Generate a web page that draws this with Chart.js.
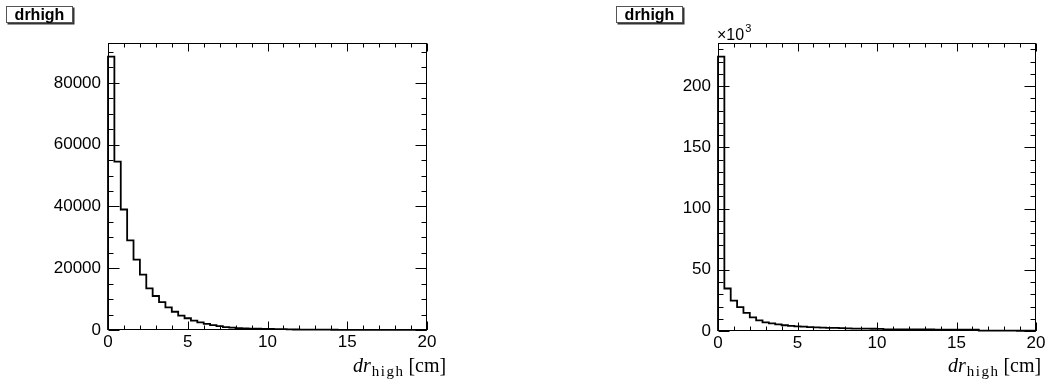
<!DOCTYPE html>
<html>
<head>
<meta charset="utf-8">
<script src="https://cdn.jsdelivr.net/npm/chart.js@4.4.1/dist/chart.umd.min.js"></script>
<style>
  html, body { margin: 0; padding: 0; background: #fff; }
  #wrap { position: relative; width: 1050px; height: 386px; }
  .pad { position: absolute; top: 0; width: 525px; height: 386px; }
</style>
</head>
<body>
<div id="wrap">
  <div class="pad" style="left:0"><canvas id="padLeft"></canvas></div>
  <div class="pad" style="left:525px"><canvas id="padRight"></canvas></div>
</div>
<script>
// Histogram binning shared by both pads: 50 bins over [0, 20] cm
const nBins = 50;
const xMin = 0;
const xMax = 20;

// Bin contents, left pad
const leftCounts = [
  88500, 54500, 39000, 29000, 22800, 17900, 13500, 11000, 9000, 7300,
  5900, 4650, 3800, 3050, 2500, 2000, 1600, 1250, 950, 760,
  620, 530, 460, 410, 370, 330, 290, 260, 230, 160,
  140, 125, 110, 100, 90, 80, 70, 62, 55, 50,
  44, 40, 36, 32, 29, 26, 24, 21, 19, 17
];

// Bin contents, right pad
const rightCounts = [
  224000, 34700, 24800, 19500, 14800, 11200, 8600, 7100, 6200, 5400,
  4700, 4200, 3800, 3500, 3200, 2950, 2750, 2600, 2500, 2300,
  2100, 2000, 1950, 1900, 1850, 1800, 1400, 1350, 1320, 1300,
  1280, 1260, 1240, 1220, 1200, 1180, 1160, 1140, 1120, 1100,
  1080, 300, 280, 260, 250, 240, 230, 220, 210, 200
];

const xTicks = [0, 5, 10, 15, 20];
const leftYTicks = [0, 20000, 40000, 60000, 80000];
const rightYTicks = [0, 50000, 100000, 150000, 200000];

const histTitle = 'drhigh';

const SANS = '"Liberation Sans", Arial, Helvetica, sans-serif';
const SERIF = '"Liberation Serif", "Times New Roman", serif';

// Outline of a histogram for stepped:'before' (horizontal first, then vertical):
// start on the axis, one point per bin at its low edge, close on the axis at xMax
function stepPoints(counts) {
  const w = (xMax - xMin) / nBins;
  const pts = [{ x: xMin, y: 0 }];
  counts.forEach((c, i) => pts.push({ x: xMin + i * w, y: c }));
  pts.push({ x: xMax, y: 0 });
  return pts;
}

// Frame, inward tick marks, title box and axis title
const rootFrame = {
  id: 'rootFrame',
  afterDatasetsDraw(chart, args, opts) {
    const { ctx, chartArea: a, scales: { x, y } } = chart;
    ctx.save();
    ctx.strokeStyle = '#000';
    ctx.lineWidth = 1;

    const L = Math.round(a.left) + 0.5, R = Math.round(a.right) - 0.5;
    const T = Math.round(a.top) + 0.5, B = Math.round(a.bottom) - 0.5;
    ctx.strokeRect(L, T, R - L, B - T);

    ctx.beginPath();
    // x ticks, bottom and top
    const nx = Math.round((xMax - xMin) / opts.xMinor);
    const xPer = Math.round(opts.xMajor / opts.xMinor);
    for (let i = 0; i <= nx; i++) {
      const px = Math.round(x.getPixelForValue(xMin + i * opts.xMinor)) + 0.5;
      const len = i % xPer === 0 ? 8 : 4;
      ctx.moveTo(px, B); ctx.lineTo(px, B - len);
      ctx.moveTo(px, T); ctx.lineTo(px, T + len);
    }
    // y ticks, left and right
    const yPer = Math.round(opts.yMajor / opts.yMinor);
    for (let i = 0; i * opts.yMinor <= y.max; i++) {
      const py = Math.round(y.getPixelForValue(i * opts.yMinor)) + 0.5;
      const len = i % yPer === 0 ? 11 : 5;
      ctx.moveTo(L, py); ctx.lineTo(L + len, py);
      ctx.moveTo(R, py); ctx.lineTo(R - len, py);
    }
    ctx.stroke();

    // title box with shadow
    const tb = opts.titleBox;
    ctx.fillStyle = '#333';
    ctx.fillRect(tb.x + 1.5, tb.y + 1.5, tb.w, tb.h);
    ctx.fillStyle = '#fff';
    ctx.fillRect(tb.x, tb.y, tb.w, tb.h);
    ctx.strokeStyle = '#555';
    ctx.strokeRect(tb.x + 0.5, tb.y + 0.5, tb.w - 1, tb.h - 1);
    ctx.fillStyle = '#000';
    ctx.font = 'bold 16px ' + SANS;
    ctx.textAlign = 'center';
    ctx.textBaseline = 'middle';
    ctx.fillText(histTitle, tb.x + tb.w / 2, tb.y + tb.h / 2 + 1);

    // exponent label above the y axis
    if (opts.exponent) {
      ctx.textAlign = 'left';
      ctx.textBaseline = 'alphabetic';
      ctx.font = '16px ' + SANS;
      const ex = Math.round(a.left) - 1;
      ctx.fillText('\u00d710', ex, 40);
      const w = ctx.measureText('\u00d710').width;
      ctx.font = '11px ' + SANS;
      ctx.fillText(opts.exponent, ex + w + 1, 32);
    }

    // x axis title: dr_high [cm]
    let tx = opts.xTitleX;
    const base = 372;
    ctx.textAlign = 'left';
    ctx.textBaseline = 'alphabetic';
    ctx.font = 'italic 20px ' + SERIF;
    ctx.fillText('dr', tx, base);
    tx += ctx.measureText('dr').width + 1;
    ctx.font = '15px ' + SERIF;
    ctx.letterSpacing = '1.5px';
    ctx.fillText('high', tx, base + 4);
    tx += ctx.measureText('high').width + 4;
    ctx.letterSpacing = '0px';
    ctx.font = '20px ' + SERIF;
    ctx.fillText('[cm]', tx, base);

    ctx.restore();
  }
};

function makeHist(canvasId, counts, cfg) {
  const ctx = document.getElementById(canvasId).getContext('2d');
  return new Chart(ctx, {
    type: 'line',
    data: {
      datasets: [{
        data: stepPoints(counts),
        stepped: 'before',
        borderColor: '#000',
        borderWidth: 1.8,
        pointRadius: 0,
        fill: false,
        clip: false
      }]
    },
    options: {
      responsive: true,
      maintainAspectRatio: false,
      animation: false,
      events: [],
      layout: { padding: cfg.padding },
      plugins: {
        legend: { display: false },
        tooltip: { enabled: false },
        rootFrame: cfg.frame
      },
      scales: {
        x: {
          type: 'linear',
          min: xMin,
          max: xMax,
          afterFit: s => { s.height = cfg.xHeight; },
          afterBuildTicks: s => { s.ticks = xTicks.map(v => ({ value: v })); },
          ticks: {
            color: '#000',
            padding: 2,
            maxRotation: 0,
            font: { family: SANS, size: 17 }
          },
          grid: { display: false, drawTicks: false },
          border: { display: false }
        },
        y: {
          type: 'linear',
          min: 0,
          max: cfg.yMax,
          afterFit: s => { s.width = cfg.yWidth; },
          afterBuildTicks: s => { s.ticks = cfg.yTicks.map(v => ({ value: v })); },
          ticks: {
            color: '#000',
            padding: 7,
            font: { family: SANS, size: 17 },
            callback: cfg.yLabel
          },
          grid: { display: false, drawTicks: false },
          border: { display: false }
        }
      }
    },
    plugins: [rootFrame]
  });
}

makeHist('padLeft', leftCounts, {
  padding: { top: 43, right: 98, left: 0, bottom: 0 },
  xHeight: 56,
  yWidth: 108,
  yMax: 92900,
  yTicks: leftYTicks,
  yLabel: v => String(v),
  frame: {
    xMinor: 1, xMajor: 5, yMinor: 5000, yMajor: 20000,
    titleBox: { x: 6, y: 6, w: 67, h: 17 },
    xTitleX: 353
  }
});

makeHist('padRight', rightCounts, {
  padding: { top: 43, right: 14, left: 0, bottom: 0 },
  xHeight: 55,
  yWidth: 193,
  yMax: 235200,
  yTicks: rightYTicks,
  yLabel: v => String(v / 1000),
  frame: {
    xMinor: 1, xMajor: 5, yMinor: 10000, yMajor: 50000,
    titleBox: { x: 91, y: 6, w: 67, h: 17 },
    exponent: '3',
    xTitleX: 423
  }
});
</script>
</body>
</html>
